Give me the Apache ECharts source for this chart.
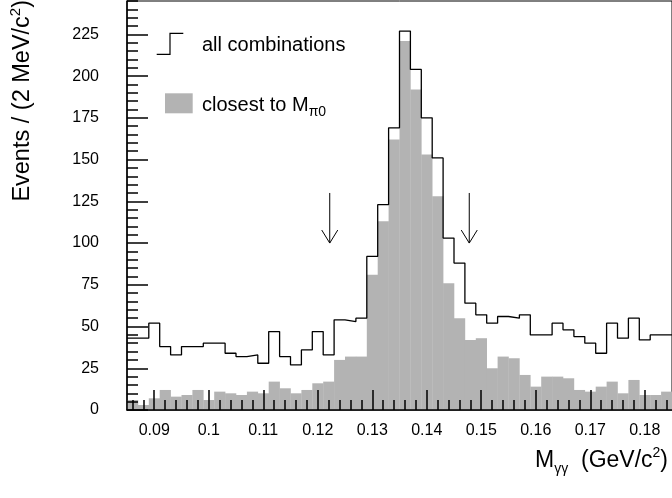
<!DOCTYPE html>
<html>
<head>
<meta charset="utf-8">
<script src="https://cdn.jsdelivr.net/npm/echarts@6/dist/echarts.min.js"></script>
<style>
  html, body { margin: 0; padding: 0; background: #fff; }
  #main { width: 672px; height: 498px; }
</style>
</head>
<body>
<div id="main"></div>
<script>
// histogram binning (2 MeV bins)
var xMin = 0.085;
var xMax = 0.185;
var binWidth = 0.002;

// all combinations (step line)
var allComb = [43, 43, 52, 38, 33, 38, 38, 40, 40, 34,
               32, 33, 28, 47, 32, 27, 36, 47, 33, 54,
               53, 55, 92, 123, 169, 227, 204, 175, 151, 103,
               88, 64, 57, 52, 56, 55, 57, 45, 45, 52,
               48, 44, 40, 34, 52, 43, 55, 42, 45, 45];

// closest to M_pi0 (grey filled)
var closest = [6, 3, 7, 12, 8, 9, 12, 6, 11, 10,
               9, 11, 10, 17, 13, 10, 12, 16, 17, 30,
               32, 32, 81, 113, 162, 221, 192, 153, 128, 76,
               55, 42, 43, 25, 32, 31, 21, 14, 20, 20,
               19, 12, 11, 14, 17, 10, 18, 9, 9, 11];

var xTickLabels = ['0.09', '0.1', '0.11', '0.12', '0.13', '0.14', '0.15', '0.16', '0.17', '0.18'];
var yTickLabels = ['0', '25', '50', '75', '100', '125', '150', '175', '200', '225'];
var yMax = 245;

// cut arrows
var arrowX = [0.1222, 0.1478];
var arrowTop = 130;
var arrowTip = 100;

var xMajor = xTickLabels.map(parseFloat);
var yMajor = yTickLabels.map(parseFloat);
var xMinor = [];
for (var i = 0; i < closest.length; i++) xMinor.push(+(xMin + binWidth * (i + 0.5)).toFixed(4));
var yMinor = [];
for (var v = 0; v <= yMax; v += 5) yMinor.push(v);

var barData = closest.map(function (c, i) {
  var lo = +(xMin + binWidth * i).toFixed(4);
  return [lo, +(lo + binWidth).toFixed(4), c];
});
var stepData = allComb.map(function (c, i) {
  return [+(xMin + binWidth * i).toFixed(4), c];
});
stepData.push([xMax, allComb[allComb.length - 1]]);
var arrowData = arrowX.map(function (x) { return [x, arrowTop, arrowTip]; });

var font = "'Liberation Sans', Arial, Helvetica, sans-serif";
var chart = echarts.init(document.getElementById('main'), null, { renderer: 'canvas' });

var tickStyle = { color: '#000', width: 1.5 };

var option = {
  animation: false,
  backgroundColor: '#fff',
  textStyle: { fontFamily: font },
  grid: {
    left: 127, right: 0, top: 1, bottom: 88,
    show: true, borderColor: '#000', borderWidth: 1,
    outerBoundsMode: 'none'
  },
  xAxis: [
    {
      type: 'value', min: xMin, max: xMax, position: 'bottom', z: 10,
      axisLine: { onZero: false, lineStyle: tickStyle },
      axisTick: { inside: true, length: 20, customValues: xMajor, lineStyle: tickStyle },
      axisLabel: {
        customValues: xMajor, margin: 13, fontSize: 16, color: '#000', fontFamily: font,
        formatter: function (val) { return xTickLabels[xMajor.indexOf(+val.toFixed(2))] || ''; }
      },
      splitLine: { show: false }
    },
    {
      type: 'value', min: xMin, max: xMax, position: 'bottom', z: 10,
      axisLine: { show: false },
      axisTick: { inside: true, length: 10, customValues: xMinor, lineStyle: tickStyle },
      axisLabel: { show: false },
      splitLine: { show: false }
    }
  ],
  yAxis: [
    {
      type: 'value', min: 0, max: yMax, position: 'left', z: 10,
      axisLine: { show: true, onZero: false, lineStyle: tickStyle },
      axisTick: { show: true, inside: true, length: 21, customValues: yMajor, lineStyle: tickStyle },
      axisLabel: {
        customValues: yMajor, margin: 28, fontSize: 16, color: '#000', fontFamily: font, align: 'right'
      },
      splitLine: { show: false }
    },
    {
      type: 'value', min: 0, max: yMax, position: 'left', z: 10,
      axisLine: { show: false },
      axisTick: { show: true, inside: true, length: 11, customValues: yMinor, lineStyle: tickStyle },
      axisLabel: { show: false },
      splitLine: { show: false }
    }
  ],
  series: [
    {
      name: 'closest',
      type: 'custom',
      encode: { x: [0, 1], y: 2 },
      data: barData,
      renderItem: function (params, api) {
        var p0 = api.coord([api.value(0), api.value(2)]);
        var p1 = api.coord([api.value(1), 0]);
        return {
          type: 'rect',
          shape: { x: p0[0], y: p0[1], width: p1[0] - p0[0] + 0.3, height: p1[1] - p0[1] },
          style: { fill: '#b3b3b3' }
        };
      },
      z: 1
    },
    {
      name: 'all',
      type: 'line',
      step: 'end',
      data: stepData,
      showSymbol: false,
      lineStyle: { color: '#000', width: 1.3 },
      z: 3
    },
    {
      name: 'arrows',
      type: 'custom',
      data: arrowData,
      renderItem: function (params, api) {
        var top = api.coord([api.value(0), api.value(1)]);
        var tip = api.coord([api.value(0), api.value(2)]);
        return {
          type: 'group',
          children: [
            {
              type: 'line',
              shape: { x1: top[0], y1: top[1], x2: tip[0], y2: tip[1] },
              style: { stroke: '#000', lineWidth: 1 }
            },
            {
              type: 'polyline',
              shape: { points: [[tip[0] - 8, tip[1] - 13], [tip[0], tip[1]], [tip[0] + 8, tip[1] - 13]] },
              style: { stroke: '#000', lineWidth: 1, fill: null }
            }
          ]
        };
      },
      z: 4
    }
  ],
  graphic: [
    {
      type: 'polyline',
      shape: { points: [[156.7, 54.3], [170, 54.3], [170, 33.3], [183.3, 33.3]] },
      style: { stroke: '#000', lineWidth: 1.2, fill: null },
      z: 10
    },
    {
      type: 'text', x: 202, y: 45,
      style: { text: 'all combinations', font: '20px ' + font, fill: '#000', textVerticalAlign: 'middle' },
      z: 10
    },
    {
      type: 'rect',
      shape: { x: 165, y: 93.3, width: 27.7, height: 20 },
      style: { fill: '#b3b3b3' },
      z: 10
    },
    {
      type: 'text', x: 202, y: 105,
      style: {
        text: '{a|closest to M}{s|π0}',
        textVerticalAlign: 'middle',
        rich: {
          a: { fontSize: 20, fontFamily: font, color: '#000', lineHeight: 28, verticalAlign: 'middle' },
          s: { fontSize: 14, fontFamily: font, color: '#000', lineHeight: 14, verticalAlign: 'bottom' }
        }
      },
      z: 10
    },
    {
      type: 'text', x: 668, y: 461,
      style: {
        text: '{a|M}{s|γγ}{a|  (GeV/c}{p|2}{a|)}',
        textAlign: 'right',
        textVerticalAlign: 'middle',
        rich: {
          a: { fontSize: 23, fontFamily: font, color: '#000', lineHeight: 30, verticalAlign: 'middle' },
          s: { fontSize: 14, fontFamily: font, color: '#000', lineHeight: 14, verticalAlign: 'bottom' },
          p: { fontSize: 14, fontFamily: font, color: '#000', lineHeight: 14, verticalAlign: 'top' }
        }
      },
      z: 10
    },
    {
      type: 'text', x: 23, y: 0, rotation: Math.PI / 2,
      style: {
        text: '{a|Events / (2 MeV/c}{p|2}{a|)}',
        textAlign: 'right',
        textVerticalAlign: 'middle',
        rich: {
          a: { fontSize: 23.5, fontFamily: font, color: '#000', lineHeight: 30, verticalAlign: 'middle' },
          p: { fontSize: 15, fontFamily: font, color: '#000', lineHeight: 15, verticalAlign: 'top' }
        }
      },
      z: 10
    }
  ]
};
chart.setOption(option);
</script>
</body>
</html>
